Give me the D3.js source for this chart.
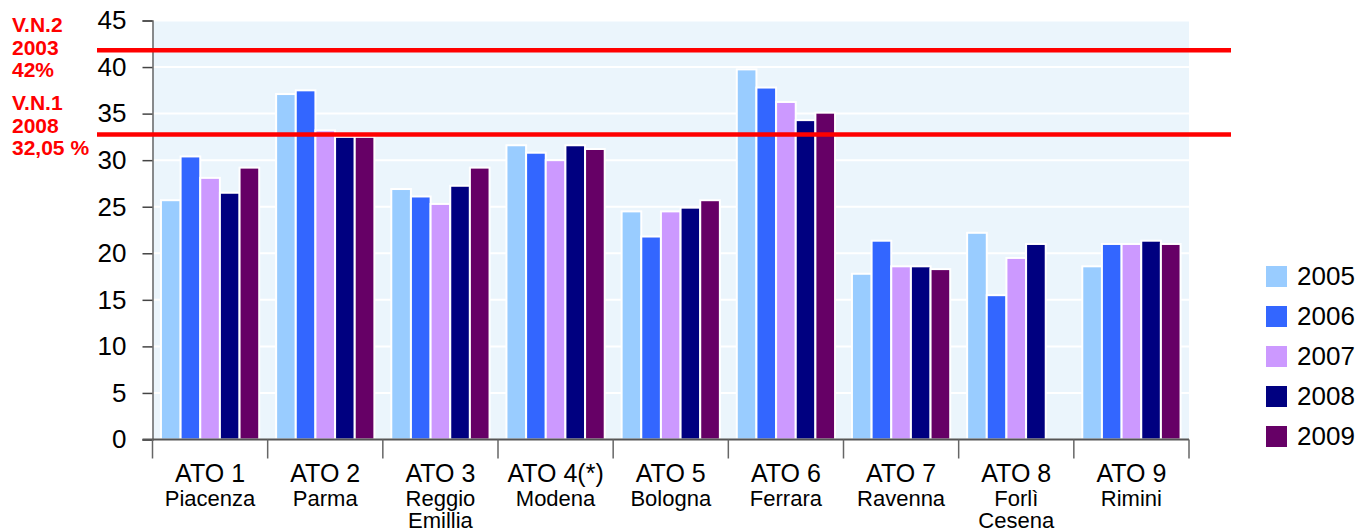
<!DOCTYPE html>
<html><head><meta charset="utf-8">
<script src="https://cdn.jsdelivr.net/npm/d3@7"></script>
<style>body{margin:0;background:#fff}svg{display:block}text{font-family:"Liberation Sans",Arial,sans-serif}</style>
</head><body>
<svg id="c" width="1357" height="531"></svg>
<script>
const categories = [["ATO 1","Piacenza"],["ATO 2","Parma"],["ATO 3","Reggio","Emillia"],["ATO 4(*)","Modena"],["ATO 5","Bologna"],["ATO 6","Ferrara"],["ATO 7","Ravenna"],["ATO 8","Forlì","Cesena"],["ATO 9","Rimini"]];
const years = ["2005","2006","2007","2008","2009"];
const v2005 = [25.7, 37.1, 26.9, 31.6, 24.5, 39.75, 17.8, 22.2, 18.6];
const v2006 = [30.4, 37.5, 26.1, 30.8, 21.8, 37.8, 21.35, 15.5, 21.0];
const v2007 = [28.1, 33.2, 25.3, 30.0, 24.5, 36.25, 18.6, 19.5, 21.0];
const v2008 = [26.5, 32.5, 27.25, 31.6, 24.9, 34.3, 18.6, 21.0, 21.35];
const v2009 = [29.2, 32.5, 29.2, 31.2, 25.7, 35.1, 18.3, null, 21.0];
const yTicks = [0,5,10,15,20,25,30,35,40,45];
const thresholds = [41.8, 32.75];
const thresholdLabels = [["V.N.2","2003","42%"],["V.N.1","2008","32,05 %"]];
const colors = ["#99CCFF","#3366FF","#CC99FF","#000080","#660066"];

const series = [v2005,v2006,v2007,v2008,v2009];
const svg = d3.select("#c");
const L=152.5, R=1189, T=20.5, B=439.5;
const x0 = d3.scaleBand().domain(d3.range(categories.length)).range([L,R]);
const x1 = d3.scaleBand().domain(years).range([0,x0.bandwidth()]).paddingOuter(0.43);
const y = d3.scaleLinear().domain([0,45]).range([B,T]);
const color = d3.scaleOrdinal().domain(years).range(colors);

svg.append("rect").attr("x",L).attr("y",T).attr("width",R-L).attr("height",B-T).attr("fill","#EBF5FC");
svg.append("g").selectAll("line").data(yTicks).join("line")
  .attr("x1",L).attr("x2",R).attr("y1",d=>y(d)).attr("y2",d=>y(d))
  .attr("stroke","#fff").attr("stroke-width",2);

const g = svg.append("g");
categories.forEach((c,i)=>{
  years.forEach((yr,j)=>{
    const v = series[j][i];
    if(v==null) return;
    g.append("rect").attr("x",x0(i)+x1(yr)).attr("width",x1.bandwidth())
      .attr("y",y(v)).attr("height",y(0)-y(v))
      .attr("fill",color(yr)).attr("stroke","#fff").attr("stroke-width",2);
  });
});

// y axis
const yAxis = svg.append("g").attr("transform",`translate(${L},0)`)
  .call(d3.axisLeft(y).tickValues(yTicks).tickSize(10).tickPadding(16));
yAxis.select(".domain").attr("stroke","#666").attr("stroke-width",1.5);
yAxis.selectAll(".tick line").attr("stroke","#444").attr("stroke-width",1.5);
yAxis.selectAll("text").attr("font-size",26).attr("fill","#000").attr("font-family","Liberation Sans, Arial, sans-serif");

// x axis
svg.append("line").attr("x1",L-10).attr("x2",R).attr("y1",B).attr("y2",B).attr("stroke","#555").attr("stroke-width",2);
const bounds = d3.range(categories.length+1).map(i=> i<categories.length? x0(i) : R);
svg.append("g").selectAll("line").data(bounds).join("line")
  .attr("x1",d=>d).attr("x2",d=>d).attr("y1",B).attr("y2",B+19)
  .attr("stroke","#666").attr("stroke-width",1.5);
const lab = svg.append("g");
categories.forEach((c,i)=>{
  const cx = x0(i)+x0.bandwidth()/2;
  c.forEach((t,k)=>{
    lab.append("text").attr("x",cx).attr("y",[482,505.5,527.5][k]).attr("text-anchor","middle")
      .attr("font-size",k==0?25:22).attr("fill","#000").text(t);
  });
});

// threshold lines
svg.append("g").selectAll("line").data(thresholds).join("line")
  .attr("x1",97).attr("x2",1231).attr("y1",d=>y(d)).attr("y2",d=>y(d))
  .attr("stroke","#FF0000").attr("stroke-width",4.5);
thresholdLabels.forEach((ls,i)=>{
  ls.forEach((t,k)=>{
    svg.append("text").attr("x",12).attr("y",(i==0?32:110)+k*22.5)
      .attr("font-size",21).attr("font-weight","bold").attr("fill","#FF0000").text(t);
  });
});

// legend
const lg = svg.append("g");
years.forEach((yr,i)=>{
  const cy = 276+i*40;
  lg.append("rect").attr("x",1266).attr("y",cy-10).attr("width",21).attr("height",21).attr("fill",color(yr));
  lg.append("text").attr("x",1297).attr("y",cy+9).attr("font-size",26).attr("fill","#000").text(yr);
});
</script>
</body></html>
